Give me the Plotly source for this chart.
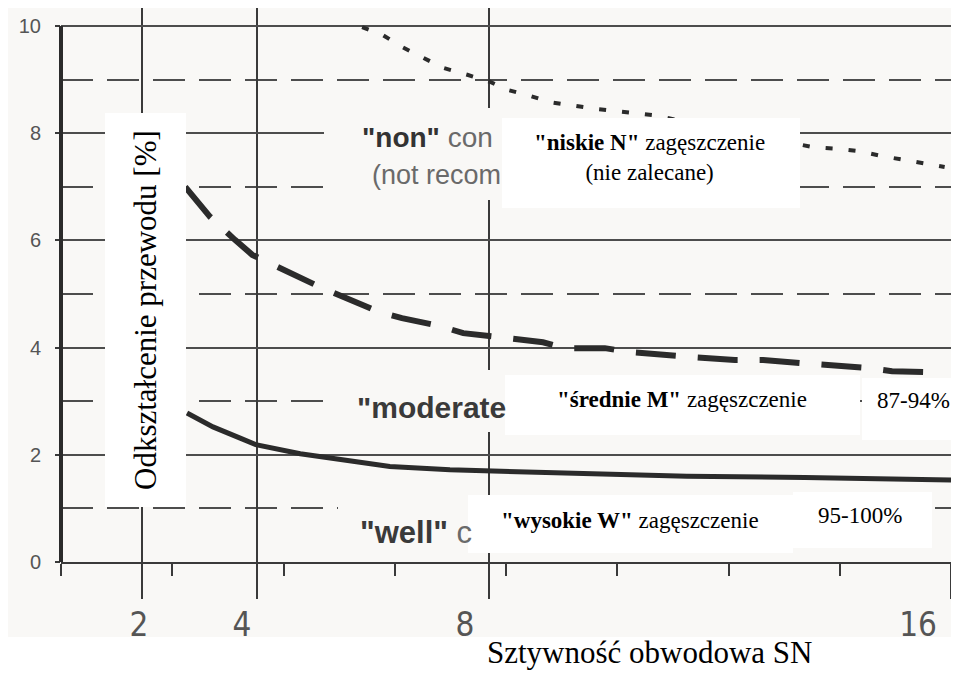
import numpy as np
import plotly.graph_objects as go

# ---------------- data ----------------
# "well" compaction (solid)
SN_WELL = [2.78, 3.23, 3.70, 3.97, 4.74, 5.31, 6.29, 7.33, 8.02, 9.62, 11.43, 13.47, 15.22, 16.0]
DEF_WELL = [2.78, 2.52, 2.31, 2.19, 2.02, 1.93, 1.78, 1.72, 1.70, 1.655, 1.60, 1.575, 1.55, 1.53]

# "moderate" compaction (dashed)
SN_MOD = [2.75, 2.97, 3.18, 3.61, 3.91, 5.08, 5.51, 6.12, 6.50, 7.16, 7.56, 8.37, 8.94,
          9.32, 10.01, 10.41, 10.96, 11.57, 12.26, 12.75, 13.42, 13.91, 14.56, 14.98, 15.72]
DEF_MOD = [7.00, 6.72, 6.44, 6.01, 5.73, 5.13, 4.93, 4.66, 4.55, 4.40, 4.27, 4.16, 4.10,
           3.99, 3.99, 3.92, 3.86, 3.82, 3.77, 3.77, 3.71, 3.68, 3.62, 3.56, 3.54]

# "non" compaction (dotted)
SN_NON = [5.81, 6.17, 6.50, 6.86, 7.21, 7.63, 8.02, 8.32, 8.68, 9.06, 9.46, 9.87, 10.83,
          13.61, 14.03, 14.39, 14.82, 15.20, 15.63, 15.89]
DEF_NON = [9.98, 9.83, 9.61, 9.42, 9.22, 9.09, 8.96, 8.81, 8.71, 8.58, 8.51, 8.45, 8.34,
           7.74, 7.71, 7.67, 7.57, 7.50, 7.41, 7.37]

X_GRID = [2, 4, 8, 16]
X_LABELS = ["2", "4", "8", "16"]
X_LABEL_AT = [1.95, 3.73, 7.59, 15.43]
Y_TICKS = [0, 2, 4, 6, 8, 10]
Y_DASHED = [1, 3, 5, 7, 9]

X_TITLE = "Sztywność obwodowa SN"
Y_TITLE = "Odkształcenie przewodu [%]"

# ---------------- layout geometry (page pixels; page body has an 8px margin) ----------------
PAGE_W, PAGE_H = 959, 684
OFF = 8                       # default body margin of the html page
W, H = PAGE_W - OFF, PAGE_H - OFF
PLOT_L, PLOT_R, PLOT_T, PLOT_B = 61, 951, 8, 562   # plot area in page pixels
L = PLOT_L - OFF
R = PAGE_W - PLOT_R
T = PLOT_T - OFF
B = PAGE_H - PLOT_B
PW = PLOT_R - PLOT_L
PH = PLOT_B - PLOT_T
XR = [0.60, 16.0]
YR = [0, 10 + (26 - PLOT_T) / 53.6]


def px(xp):
    return (xp - PLOT_L) / PW


def py(yp):
    return (PLOT_B - yp) / PH


LINE_COL = "#2b2b2b"
GRID_COL = "#3a3a3a"
HGRID_COL = "#4d4d4d"
BG_GREY = "#f9f8f6"
SANS = "Liberation Sans, Arial, sans-serif"
NARROW = "Liberation Sans Narrow, Arial Narrow, DejaVu Sans Condensed, sans-serif"
SERIF = "Liberation Serif, Times New Roman, serif"

fig = go.Figure()
fig.add_trace(go.Scatter(x=SN_WELL, y=DEF_WELL, mode="lines",
                         line=dict(color=LINE_COL, width=5), hoverinfo="skip"))
fig.add_trace(go.Scatter(x=SN_MOD, y=DEF_MOD, mode="lines",
                         line=dict(color=LINE_COL, width=6, dash="40px,22px"), hoverinfo="skip"))
fig.add_trace(go.Scatter(x=SN_NON, y=DEF_NON, mode="lines",
                         line=dict(color=LINE_COL, width=4, dash="7px,16px"), hoverinfo="skip"))
# empty trace so the label axis is drawn
fig.add_trace(go.Scatter(x=[], y=[], xaxis="x2", hoverinfo="skip"))


def rect(x0, x1, y0, y1, color, layer):
    return dict(type="rect", xref="paper", yref="paper",
                x0=px(x0), x1=px(x1), y0=py(y1), y1=py(y0),
                fillcolor=color, line=dict(width=0), layer=layer)


shapes = [
    # original chart's light grey background
    rect(8, 953, 0, 637, BG_GREY, "below"),
    # thick value axis
    dict(type="line", xref="paper", yref="y", x0=0, x1=0, y0=0, y1=10,
         line=dict(color=LINE_COL, width=4), layer="above"),
]
# grey backgrounds behind the original english labels
for (x0, x1, y0, y1) in [(324, 502, 108, 200), (326, 505, 370, 432), (338, 468, 495, 556)]:
    shapes.append(rect(x0, x1, y0, y1, BG_GREY, "above"))
# white overlay boxes
for (x0, x1, y0, y1) in [(105, 186, 113, 507), (502, 800, 118, 208), (505, 860, 375, 435),
                         (862, 959, 378, 440), (468, 793, 495, 553), (793, 932, 492, 548)]:
    shapes.append(rect(x0, x1, y0, y1, "white", "above"))

ann = []
# remnants of the original english labels
ann.append(dict(text='<b>"non"</b> <span style="color:#6a6a6a">con</span>', x=px(360), y=py(137),
                xanchor="left", yanchor="middle", font=dict(family=SANS, size=28, color="#333")))
ann.append(dict(text='(not recom', x=px(370), y=py(175), xanchor="left", yanchor="middle",
                font=dict(family=SANS, size=27, color="#6a6a6a")))
ann.append(dict(text='<b>"moderate</b>', x=px(355), y=py(407), xanchor="left", yanchor="middle",
                font=dict(family=SANS, size=30, color="#3a3a3a")))
ann.append(dict(text='<b>"well"</b> <span style="color:#6a6a6a">c</span>', x=px(358), y=py(532),
                xanchor="left", yanchor="middle", font=dict(family=SANS, size=31, color="#3a3a3a")))
# polish labels
ann.append(dict(text=Y_TITLE, textangle=-90, x=px(145), y=py(310), xanchor="center", yanchor="middle",
                font=dict(family=SERIF, size=31, color="black")))
ann.append(dict(text='<b>"niskie N"</b> zagęszczenie<br>(nie zalecane)', x=px(649), y=py(157.5),
                xanchor="center", yanchor="middle", font=dict(family=SERIF, size=23, color="black")))
ann.append(dict(text='<b>"średnie M"</b> zagęszczenie', x=px(682), y=py(399),
                xanchor="center", yanchor="middle", font=dict(family=SERIF, size=23, color="black")))
ann.append(dict(text='87-94%', x=px(913), y=py(400),
                xanchor="center", yanchor="middle", font=dict(family=SERIF, size=23, color="black")))
ann.append(dict(text='<b>"wysokie W"</b> zagęszczenie', x=px(630), y=py(520),
                xanchor="center", yanchor="middle", font=dict(family=SERIF, size=23, color="black")))
ann.append(dict(text='95-100%', x=px(860), y=py(515),
                xanchor="center", yanchor="middle", font=dict(family=SERIF, size=23, color="black")))
ann.append(dict(text=X_TITLE, x=px(650), y=py(652),
                xanchor="center", yanchor="middle", font=dict(family=SERIF, size=31, color="black")))
for a in ann:
    a.update(xref="paper", yref="paper", showarrow=False)

fig.update_layout(
    template="none",
    width=W, height=H,
    margin=dict(l=L, r=R, t=T, b=B, pad=0, autoexpand=False),
    paper_bgcolor="white", plot_bgcolor="rgba(0,0,0,0)",
    showlegend=False,
    shapes=shapes, annotations=ann,
    xaxis=dict(range=XR, tickmode="array", tickvals=X_GRID, showticklabels=False, automargin=False,
               ticks="outside", ticklen=35, tickwidth=2, tickcolor=GRID_COL,
               showgrid=True, gridcolor=GRID_COL, gridwidth=1.6,
               showline=True, linecolor=GRID_COL, linewidth=2, zeroline=False,
               minor=dict(tickmode="array", tickvals=list(np.linspace(XR[0], XR[1], 9)),
                          ticks="outside", ticklen=12, tickwidth=2, tickcolor=GRID_COL,
                          showgrid=False)),
    xaxis2=dict(range=XR, overlaying="x", anchor="y", side="bottom", automargin=False,
                tickmode="array", tickvals=X_LABEL_AT, ticktext=X_LABELS,
                ticks="", showgrid=False, showline=False, zeroline=False,
                ticklabelstandoff=40,
                tickfont=dict(family=NARROW, size=33, color="#555")),
    yaxis=dict(range=YR, tickmode="array", tickvals=Y_TICKS, automargin=False,
               ticks="outside", ticklen=5, tickwidth=2, tickcolor=GRID_COL,
               showgrid=True, gridcolor=HGRID_COL, gridwidth=1.6,
               showline=False, zeroline=False, ticklabelstandoff=10,
               tickfont=dict(family=SANS, size=20, color="#555"),
               minor=dict(tickmode="array", tickvals=Y_DASHED, showgrid=True,
                          griddash="32px,14px", gridcolor=HGRID_COL, gridwidth=1.6, ticks="")),
)

fig.write_html("out.html")
